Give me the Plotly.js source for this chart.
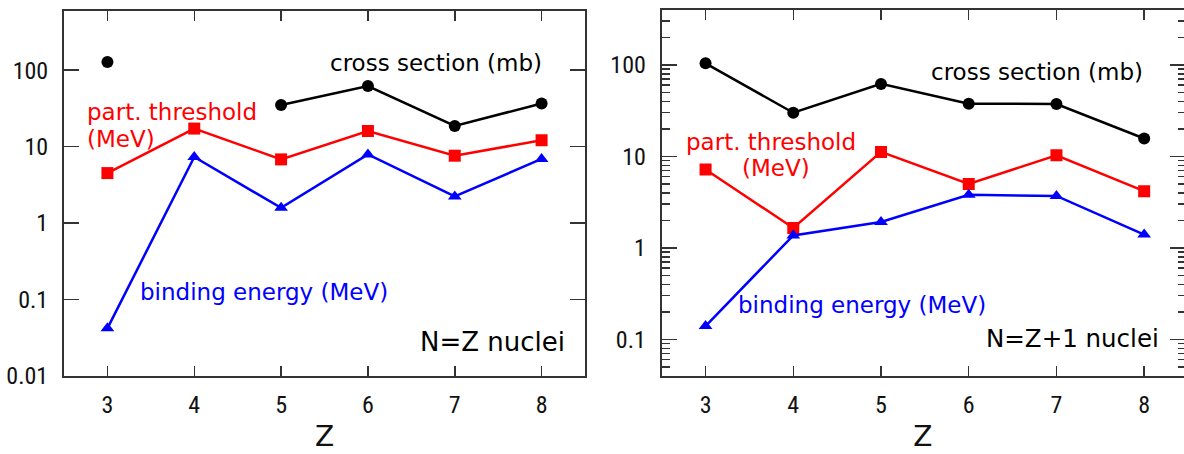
<!DOCTYPE html>
<html><head><meta charset="utf-8">
<script src="https://cdn.plot.ly/plotly-3.0.1.min.js"></script>
<style>html,body{margin:0;padding:0;background:#fff}</style>
</head><body><div id="chart" style="width:1184px;height:454px"></div>
<script>
// ---- data ----
const Z = [3, 4, 5, 6, 7, 8];
// N=Z nuclei
const crossNZ  = [128, null, 35, 62, 18.6, 36.6];
const threshNZ = [4.5, 17.2, 6.8, 16.0, 7.6, 12.1];
const bindNZ   = [0.042, 7.3, 1.58, 7.9, 2.23, 6.9];
// N=Z+1 nuclei
const crossNZ1  = [104, 30, 62, 37.7, 37.4, 15.7];
const threshNZ1 = [7.2, 1.65, 11.2, 5.0, 10.3, 4.17];
const bindNZ1   = [0.14, 1.37, 1.92, 3.8, 3.7, 1.4];

const yTickValsL = [0.01, 0.1, 1, 10, 100];
const yTickTextL = ['0.01', '0.1', '1', '10', '100'];
const yTickValsR = [0.1, 1, 10, 100];
const yTickTextR = ['0.1', '1', '10', '100'];
const xTickText = ['3', '4', '5', '6', '7', '8'];

// ---- styles ----
const W = 1184, H = 454;
const px = x => x / W, py = y => 1 - y / H;
const AX = '#333';
const tickFont = {family: 'Roboto Condensed, DejaVu Sans Condensed, sans-serif', size: 24, color: '#111'};
const txtFont = (c, s) => ({family: 'DejaVu Sans, sans-serif', size: s, color: c});

function series(y, color, symbol, xa, ya) {
  return {x: Z, y: y, xaxis: xa, yaxis: ya, type: 'scatter', mode: 'lines+markers',
    connectgaps: false, showlegend: false, hoverinfo: 'x+y',
    line: {color: color, width: 2.5},
    marker: {color: color, symbol: symbol, size: 12}};
}

const traces = [
  series(crossNZ, '#000000', 'circle', 'x', 'y'),
  series(threshNZ, '#ff0000', 'square', 'x', 'y'),
  series(bindNZ, '#0000ff', 'triangle-up', 'x', 'y'),
  series(crossNZ1, '#000000', 'circle', 'x2', 'y2'),
  series(threshNZ1, '#ff0000', 'square', 'x2', 'y2'),
  series(bindNZ1, '#0000ff', 'triangle-up', 'x2', 'y2'),
  {x: [], y: [], xaxis: 'x2', yaxis: 'y3', type: 'scatter', mode: 'markers', showlegend: false, hoverinfo: 'skip'}
];

const xBase = {
  tickvals: Z, ticktext: xTickText, ticks: 'inside', ticklen: 10, tickwidth: 1.5, tickcolor: AX,
  showline: true, linecolor: AX, linewidth: 2, mirror: 'ticks', showgrid: false, zeroline: false,
  tickfont: tickFont, ticklabelstandoff: 6, fixedrange: true,
  title: {text: 'Z', font: txtFont('#111', 28), standoff: 9}
};
const yBase = {
  type: 'log', ticks: 'inside', ticklen: 15, tickwidth: 1.5, tickcolor: AX,
  showline: true, linecolor: AX, linewidth: 2, showgrid: false, zeroline: false,
  tickfont: tickFont, ticklabelstandoff: 9, fixedrange: true
};

const layout = {
  width: W, height: H, margin: {l: 0, r: 0, t: 0, b: 0},
  paper_bgcolor: '#fff', plot_bgcolor: '#fff', showlegend: false,
  xaxis: Object.assign({}, xBase, {domain: [px(64), px(585)], range: [2.5, 8.5], anchor: 'y'}),
  yaxis: Object.assign({}, yBase, {domain: [py(376), py(11)], range: [-2, 2.773], anchor: 'x',
    tickvals: yTickValsL, ticktext: yTickTextL, mirror: 'ticks'}),
  xaxis2: Object.assign({}, xBase, {domain: [px(661.7), 1], range: [2.5, 8.454], anchor: 'y2'}),
  yaxis2: Object.assign({}, yBase, {domain: [py(376), py(10)], range: [-1.40, 2.60], anchor: 'x2',
    tickvals: yTickValsR, ticktext: yTickTextR, mirror: false,
    minor: {ticks: 'inside', ticklen: 8, tickwidth: 1.5, tickcolor: AX, dtick: 'D1', showgrid: false}}),
  yaxis3: {type: 'log', overlaying: 'y2', anchor: 'x2', side: 'right', range: [-1.40, 2.60],
    tickvals: yTickValsR, ticks: 'inside', ticklen: 14, tickwidth: 1.5, tickcolor: AX,
    showticklabels: false, showline: false, showgrid: false, zeroline: false, fixedrange: true,
    minor: {ticks: 'inside', ticklen: 6, tickwidth: 1.5, tickcolor: AX, dtick: 'D1', showgrid: false}},
  annotations: [
    {text: 'cross section (mb)', x: px(328), y: py(63), xanchor: 'left', font: txtFont('#000', 23)},
    {text: 'part. threshold', x: px(85), y: py(112), xanchor: 'left', font: txtFont('#ff0000', 23)},
    {text: '(MeV)', x: px(85), y: py(139), xanchor: 'left', font: txtFont('#ff0000', 23)},
    {text: 'binding energy (MeV)', x: px(138), y: py(292), xanchor: 'left', font: txtFont('#0000ff', 23)},
    {text: 'N=Z nuclei', x: px(418), y: py(342), xanchor: 'left', font: txtFont('#000', 26)},
    {text: 'cross section (mb)', x: px(929), y: py(72), xanchor: 'left', font: txtFont('#000', 23)},
    {text: 'part. threshold', x: px(684), y: py(142), xanchor: 'left', font: txtFont('#ff0000', 23)},
    {text: '(MeV)', x: px(776), y: py(168), xanchor: 'center', font: txtFont('#ff0000', 23)},
    {text: 'binding energy (MeV)', x: px(736), y: py(305), xanchor: 'left', font: txtFont('#0000ff', 23)},
    {text: 'N=Z+1 nuclei', x: px(984), y: py(338), xanchor: 'left', font: txtFont('#000', 24.5)}
  ].map(a => Object.assign({xref: 'paper', yref: 'paper', yanchor: 'middle', showarrow: false}, a))
};

Plotly.newPlot('chart', traces, layout, {staticPlot: true, displayModeBar: false});
</script>
</body></html>
